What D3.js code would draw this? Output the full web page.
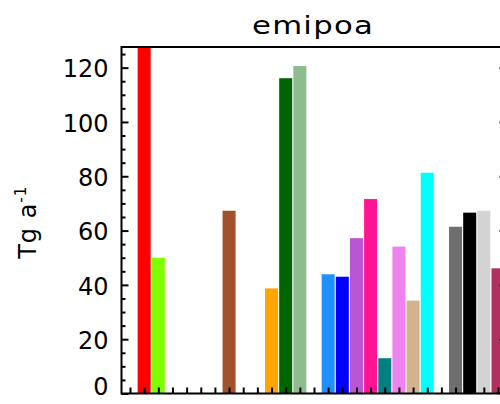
<!DOCTYPE html>
<html>
<head>
<meta charset="utf-8">
<script src="https://cdn.jsdelivr.net/npm/d3@7/dist/d3.min.js"></script>
<style>
  html, body { margin: 0; padding: 0; background: #fff; }
  svg { display: block; overflow: hidden; }
  text { font-family: "DejaVu Sans", sans-serif; fill: #000; }
</style>
</head>
<body>
<svg id="chart" width="500" height="404"></svg>
<script>
// Emission totals per source slot (Tg a^-1); empty slots carry no bar
const xSlots = [0, 1, 2, 3, 4, 5, 6, 7, 8, 9, 10, 11, 12, 13, 14, 15, 16, 17, 18, 19, 20, 21, 22, 23, 24, 25, 26];
const barSlots = [1, 2, 7, 10, 11, 12, 14, 15, 16, 17, 18, 19, 20, 21, 23, 24, 25, 26];
const barValues = [131, 50, 67.3, 38.7, 116.1, 120.6, 43.9, 43.0, 57.2, 71.6, 13.0, 54.1, 34.2, 81.3, 61.4, 66.6, 67.3, 46.1];
const barColors = ["#ff0000", "#7fff00", "#a0522d", "#ffa500", "#006400", "#8fbc8f",
                   "#1e90ff", "#0000ff", "#ba55d3", "#ff1493", "#008080", "#ee82ee",
                   "#d2b48c", "#00ffff", "#6e6e6e", "#000000", "#d3d3d3", "#b03060"];
const yMajorTicks = [0, 20, 40, 60, 80, 100, 120];
const yMinorTicks = [5, 10, 15, 25, 30, 35, 45, 50, 55, 65, 70, 75, 85, 90, 95, 105, 110, 115, 125];
const titleText = "emipoa";

const svg = d3.select("#chart");
const plotL = 121.5, plotR = 506.5, plotT = 47, plotB = 393.5;

const x = d3.scaleLinear().domain([-0.6, 26.6]).range([plotL, plotR]);
const y = d3.scaleLinear().domain([0, 127.6]).range([plotB, plotT]);
const step = x(1) - x(0);
const barW = step * 0.92;

svg.append("defs").append("clipPath").attr("id", "plot-clip")
  .append("rect").attr("x", plotL).attr("y", plotT)
  .attr("width", plotR - plotL).attr("height", plotB - plotT);

const bars = barSlots.map((s, i) => ({ slot: s, value: barValues[i], color: barColors[i] }));

svg.append("g").attr("clip-path", "url(#plot-clip)")
  .selectAll("rect").data(bars).join("rect")
  .attr("x", d => x(d.slot) - barW / 2)
  .attr("width", barW)
  .attr("y", d => y(d.value))
  .attr("height", d => y(0) - y(d.value))
  .attr("fill", d => d.color);

// left axis: major ticks with labels, pointing into the plot
const yAxis = svg.append("g").attr("transform", `translate(${plotL},0)`)
  .call(d3.axisLeft(y).tickValues(yMajorTicks).tickSize(-7).tickPadding(13).tickFormat(d3.format("d")));
yAxis.select(".domain").remove();
yAxis.selectAll(".tick line").attr("stroke", "#000").attr("stroke-width", 2);
yAxis.selectAll(".tick text").attr("font-size", 24).attr("dy", "0.38em");
yAxis.selectAll(".tick").filter(d => d === 0).select("text").attr("y", -8);

const yMinor = svg.append("g").attr("transform", `translate(${plotL},0)`)
  .call(d3.axisLeft(y).tickValues(yMinorTicks).tickSize(-4).tickFormat(""));
yMinor.select(".domain").remove();
yMinor.selectAll(".tick line").attr("stroke", "#000").attr("stroke-width", 2);

// right axis mirrors the major ticks
const yRight = svg.append("g").attr("transform", `translate(${plotR},0)`)
  .call(d3.axisRight(y).tickValues(yMajorTicks).tickSize(-7).tickFormat(""));
yRight.select(".domain").remove();
yRight.selectAll(".tick line").attr("stroke", "#000").attr("stroke-width", 2);

// bottom axis: one tick per slot, pointing up
const xAxis = svg.append("g").attr("transform", `translate(0,${plotB})`)
  .call(d3.axisBottom(x).tickValues(xSlots).tickSize(-6).tickFormat(""));
xAxis.select(".domain").remove();
xAxis.selectAll(".tick line").attr("stroke", "#000").attr("stroke-width", 2);

// frame
svg.append("rect")
  .attr("x", plotL).attr("y", plotT)
  .attr("width", plotR - plotL).attr("height", plotB - plotT)
  .attr("fill", "none").attr("stroke", "#000").attr("stroke-width", 2);

// title
svg.append("text")
  .attr("transform", `translate(${(plotL + plotR) / 2 - 1},34) scale(1.28,1)`)
  .attr("text-anchor", "middle")
  .attr("font-size", 24)
  .attr("letter-spacing", 1)
  .text(titleText);

// y-axis title with superscript
const yl = svg.append("text")
  .attr("transform", `translate(36,${(plotT + plotB) / 2 + 2}) rotate(-90)`)
  .attr("text-anchor", "middle")
  .attr("font-size", 24)
  .attr("letter-spacing", 1);
yl.append("tspan").text("Tg a");
yl.append("tspan").attr("font-size", 15).attr("dy", -10).text("-1");
</script>
</body>
</html>
